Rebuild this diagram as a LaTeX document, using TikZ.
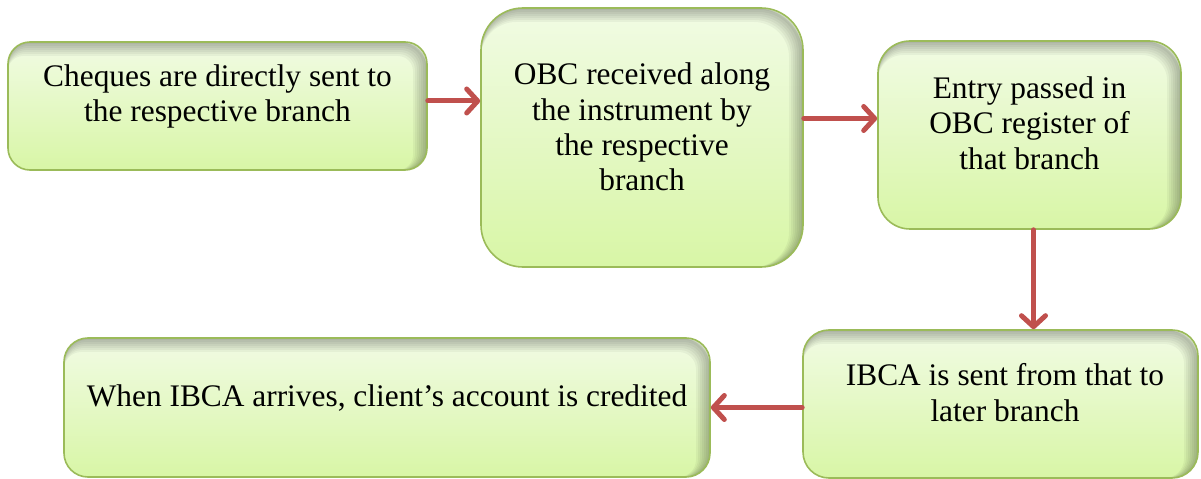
\documentclass[tikz,border=0pt]{standalone}
\usepackage{fontspec}
\setmainfont{Liberation Serif}
\usetikzlibrary{arrows.meta}
\definecolor{boxline}{HTML}{9BBB59}
\definecolor{boxtop}{HTML}{F1FBE4}
\definecolor{boxbot}{HTML}{D8F6A6}
\definecolor{arrred}{HTML}{C0504D}
\tikzset{
  stepbox/.style={draw=boxline, line width=1.6bp, rounded corners=#1, top color=boxtop, bottom color=boxbot,
    inner sep=0pt,
    path picture={
      \foreach \w/\s in {2/1,4/2,6/3,8/4,10/5,12/6,14/7}
        \draw[black, opacity=.045, line width=\w bp, rounded corners=#1]
          ([xshift=-\s bp,yshift=-\s bp]path picture bounding box.north west) rectangle ([xshift=-\s bp,yshift=-\s bp]path picture bounding box.south east);
    }},
  flowtxt/.style={align=center, inner sep=0pt, font=\fontsize{31.5}{35.5}\selectfont},
  flowarr/.style={draw=arrred, line width=5bp, line cap=round, -{Straight Barb[length=11bp,width=24bp,line cap=round,line join=round]}}
}
\begin{document}
\begin{tikzpicture}[x=1bp,y=-1bp]
  \useasboundingbox (0,0) rectangle (1201,479);
  \node[stepbox=22bp, minimum width=419bp, minimum height=128bp] (cheq) at (217.5,106) {};
  \node[stepbox=42bp, minimum width=322bp, minimum height=259bp] (obc) at (642,137.5) {};
  \node[stepbox=32bp, minimum width=303bp, minimum height=188bp] (entry) at (1029.5,135) {};
  \node[stepbox=26bp, minimum width=395bp, minimum height=148bp] (ibca) at (1000.5,404) {};
  \node[stepbox=24bp, minimum width=646bp, minimum height=139bp] (cred) at (387,407.5) {};
  \node[flowtxt] (cheqtxt) at (217.5,96.5) {Cheques are directly sent to\\the respective branch};
  \node[flowtxt] (obctxt) at (642,127) {OBC received along\\the instrument by\\the respective\\branch};
  \node[flowtxt] (entrytxt) at (1029.5,123) {Entry passed in\\OBC register of\\that branch};
  \node[flowtxt] (ibcatxt) at (1005,392.5) {IBCA is sent from that to\\later branch};
  \node[flowtxt] (credtxt) at (387,398) {When IBCA arrives, client’s account is credited};
  \draw[flowarr] ([yshift=5bp]cheq.east) -- ([yshift=5bp]cheq.east -| obc.west);
  \draw[flowarr] ([yshift=19bp]obc.east) -- ([yshift=19bp]obc.east -| entry.west);
  \draw[flowarr] ([xshift=4bp]entry.south) -- ([xshift=4bp]entry.south |- ibca.north);
  \draw[flowarr] (ibca.west |- cred.east) -- (cred.east);
\end{tikzpicture}
\end{document}
